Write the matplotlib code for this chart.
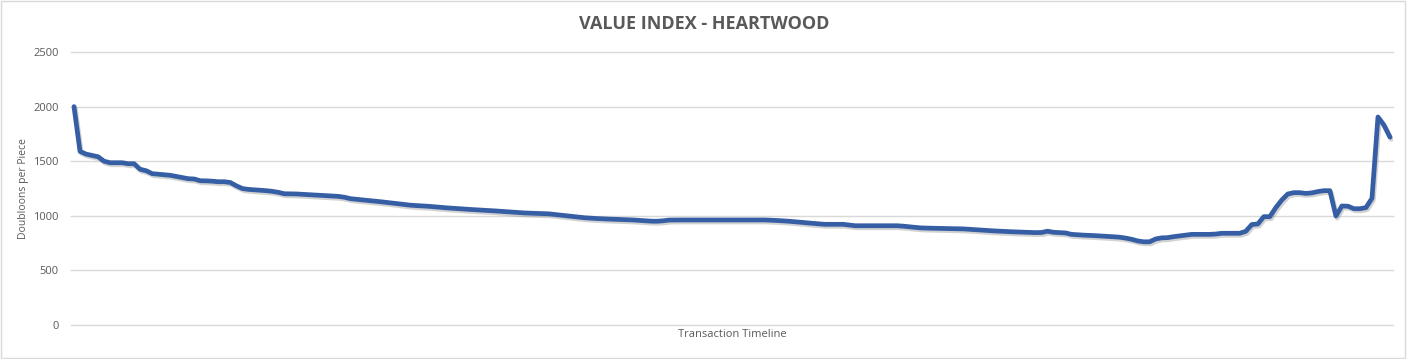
import matplotlib
matplotlib.use("Agg")
import matplotlib.pyplot as plt
import matplotlib.patheffects as pe
from matplotlib.patches import Rectangle
import numpy as np

# Données (une valeur par transaction)
title = "VALUE INDEX - HEARTWOOD"
x_label = "Transaction Timeline"
y_label = "Doubloons per Piece"
y_ticks = [0, 500, 1000, 1500, 2000, 2500]

prices = [
    2000, 1590, 1565, 1553, 1541, 1500, 1486, 1486, 1486, 1477,
    1477, 1426, 1413, 1386, 1381, 1376, 1371, 1361, 1351, 1340,
    1337, 1321, 1320, 1317, 1312, 1312, 1305, 1275, 1250, 1242,
    1238, 1234, 1230, 1224, 1215, 1202, 1201, 1200, 1197, 1193,
    1190, 1188, 1185, 1183, 1178, 1170, 1157, 1151, 1146, 1140,
    1135, 1129, 1123, 1117, 1110, 1103, 1097, 1094, 1091, 1087,
    1082, 1078, 1073, 1069, 1064, 1061, 1058, 1055, 1052, 1048,
    1045, 1041, 1037, 1033, 1029, 1026, 1024, 1022, 1020, 1018,
    1012, 1006, 1001, 994, 987, 982, 978, 975, 972, 970,
    968, 966, 964, 962, 958, 954, 951, 950, 954, 961,
    962, 962, 962, 962, 962, 962, 962, 962, 962, 962,
    962, 962, 962, 962, 962, 962, 960, 957, 954, 950,
    945, 939, 935, 931, 926, 922, 922, 922, 922, 916,
    909, 909, 909, 909, 909, 909, 909, 909, 905, 899,
    894, 889, 887, 886, 885, 884, 883, 882, 880, 877,
    873, 869, 865, 862, 859, 856, 854, 852, 850, 848,
    846, 847, 859, 849, 846, 843, 830, 826, 823, 821,
    818, 815, 812, 808, 804, 796, 785, 770, 762, 762,
    788, 798, 800, 809, 816, 824, 830, 830, 830, 830,
    833, 840, 840, 840, 840, 858, 920, 925, 992, 992,
    1075, 1145, 1200, 1212, 1212, 1205, 1210, 1222, 1230, 1230,
    998, 1090, 1088, 1065, 1065, 1075, 1160, 1905, 1830, 1720,
]

LINE_COLOR = "#365EA5"
TEXT_COLOR = "#595959"
GRID_COLOR = "#D9D9D9"

plt.rcParams["font.family"] = ["Open Sans", "DejaVu Sans"]

fig = plt.figure(figsize=(14.08, 3.59), dpi=100)
ax = fig.add_axes([71 / 1408, 1 - 325 / 359, (1393 - 71) / 1408, (325 - 52) / 359])

x = np.arange(len(prices))
ax.plot(x, prices, color=LINE_COLOR, linewidth=3.4, solid_joinstyle="round",
        solid_capstyle="round",
        path_effects=[pe.SimpleLineShadow(offset=(1, -1.5), shadow_color="gray", alpha=0.35),
                      pe.Normal()])

ax.set_xlim(-0.5, len(prices) - 0.5)
ax.set_ylim(0, 2500)
ax.set_yticks(y_ticks)
ax.set_yticklabels([str(t) for t in y_ticks], color=TEXT_COLOR, fontsize=8)
ax.set_xticks([])
ax.tick_params(axis="y", length=0, pad=9)
ax.grid(axis="y", color=GRID_COLOR, linewidth=1.0)
for gl in ax.get_ygridlines():
    gl.set_clip_on(False)
ax.set_axisbelow(True)
for s in ax.spines.values():
    s.set_visible(False)

ax.set_xlabel(x_label, color=TEXT_COLOR, fontsize=8, labelpad=3)
ax.set_ylabel(y_label, color=TEXT_COLOR, fontsize=7.5, labelpad=3)

fig.text(0.5, 1 - 24 / 359, title, ha="center", va="center",
         fontsize=13, fontweight="bold", color=TEXT_COLOR)

# Bordure du graphique
fig.patches.append(Rectangle((0.001, 0.003), 0.997, 0.994, transform=fig.transFigure,
                             fill=False, edgecolor=GRID_COLOR, linewidth=1.0))

fig.savefig("out.png", dpi=100)
